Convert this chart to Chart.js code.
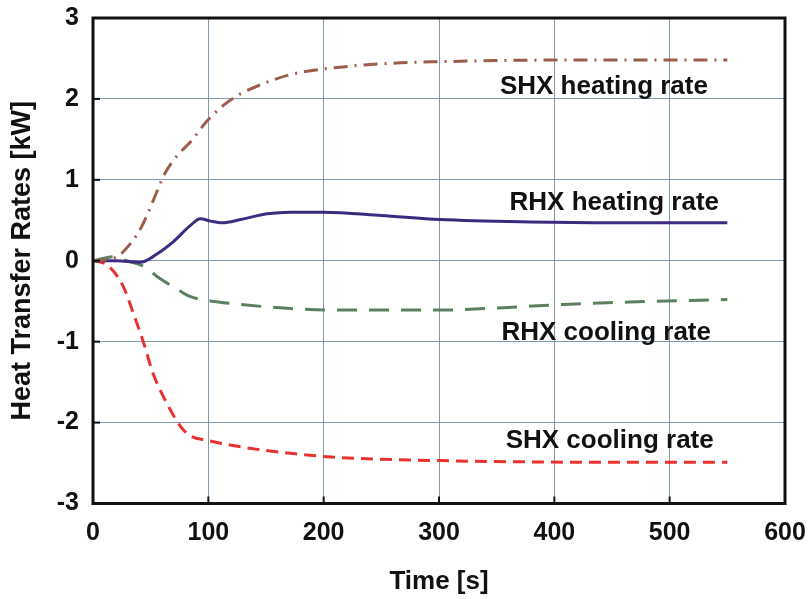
<!DOCTYPE html>
<html>
<head>
<meta charset="utf-8">
<script src="https://cdn.jsdelivr.net/npm/chart.js@4"></script>
<style>
html,body{margin:0;padding:0;background:#fff;}
#wrap{width:809px;height:599px;}
</style>
</head>
<body>
<div id="wrap"><canvas id="heatChart" width="809" height="599"></canvas></div>
<script>
// time [s] and rates [kW]
const shxHeatT = [0, 10, 22, 34, 41, 48, 55, 62, 73, 84, 99, 113, 125, 148, 171, 200, 258, 301, 400, 550];
const shxHeatV = [0, 0.01, 0.06, 0.24, 0.39, 0.6, 0.84, 1.07, 1.3, 1.46, 1.73, 1.92, 2.04, 2.19, 2.3, 2.37, 2.44, 2.46, 2.48, 2.48];

const rhxHeatT = [0, 20, 41, 55, 70, 84, 93, 102, 112, 128, 151, 171, 200, 250, 301, 379, 450, 550];
const rhxHeatV = [0, 0, -0.02, 0.08, 0.24, 0.43, 0.52, 0.49, 0.47, 0.51, 0.58, 0.6, 0.6, 0.56, 0.51, 0.48, 0.47, 0.47];

const rhxCoolT = [0, 18, 29, 44, 58, 73, 84, 99, 128, 171, 212, 301, 356, 408, 466, 550];
const rhxCoolV = [0, 0.05, 0, -0.07, -0.22, -0.35, -0.44, -0.49, -0.54, -0.59, -0.61, -0.61, -0.58, -0.54, -0.51, -0.48];

const shxCoolT = [0, 12, 26, 35, 44, 52, 64, 76, 84, 99, 128, 171, 212, 301, 446, 550];
const shxCoolV = [0, -0.05, -0.31, -0.65, -1.02, -1.39, -1.76, -2.05, -2.16, -2.22, -2.3, -2.38, -2.43, -2.47, -2.49, -2.49];

const xTicks = [0, 100, 200, 300, 400, 500, 600];
const yTicks = [-3, -2, -1, 0, 1, 2, 3];

// curve labels: [text, x, y] in data units
const curveLabels = [
  ['SHX heating rate', 443, 2.15],
  ['RHX heating rate', 452, 0.71],
  ['RHX cooling rate', 445, -0.89],
  ['SHX cooling rate', 448, -2.23]
];

function pts(t, v){
  return t.map((x, i) => ({x: x, y: v[i]}));
}

const FONT = 'Liberation Sans, Arial, sans-serif';
const GRID = '#7f9caf';

const labelsPlugin = {
  id: 'labelsPlugin',
  afterDatasetsDraw(chart){
    const c = chart.ctx, xs = chart.scales.x, ys = chart.scales.y;
    const a = chart.chartArea;
    c.save();
    // inward tick marks
    c.strokeStyle = '#111';
    c.lineWidth = 2;
    yTicks.forEach(v => {
      const y = ys.getPixelForValue(v);
      c.beginPath(); c.moveTo(a.left, y); c.lineTo(a.left + 7, y); c.stroke();
    });
    xTicks.forEach(v => {
      const x = xs.getPixelForValue(v);
      c.beginPath(); c.moveTo(x, a.bottom); c.lineTo(x, a.bottom - 7); c.stroke();
    });
    // frame
    c.lineWidth = 3;
    c.strokeRect(a.left, a.top, a.right - a.left, a.bottom - a.top);
    c.fillStyle = '#111';
    c.font = 'bold 26px ' + FONT;
    c.textAlign = 'center';
    c.textBaseline = 'middle';
    curveLabels.forEach(l => {
      c.fillText(l[0], xs.getPixelForValue(l[1]), ys.getPixelForValue(l[2]));
    });
    c.restore();
  }
};

new Chart(document.getElementById('heatChart'), {
  type: 'line',
  data: {
    datasets: [
      {label: 'SHX heating rate', data: pts(shxHeatT, shxHeatV), borderColor: '#9c5e4c', borderWidth: 3, borderDash: [14, 7, 2, 7], cubicInterpolationMode: 'monotone', pointRadius: 0},
      {label: 'RHX heating rate', data: pts(rhxHeatT, rhxHeatV), borderColor: '#3d2b82', borderWidth: 3, cubicInterpolationMode: 'monotone', pointRadius: 0},
      {label: 'RHX cooling rate', data: pts(rhxCoolT, rhxCoolV), borderColor: '#5b7f5f', borderWidth: 3, borderDash: [20, 12], cubicInterpolationMode: 'monotone', pointRadius: 0},
      {label: 'SHX cooling rate', data: pts(shxCoolT, shxCoolV), borderColor: '#e83230', borderWidth: 3, borderDash: [12, 7], cubicInterpolationMode: 'monotone', pointRadius: 0}
    ]
  },
  options: {
    responsive: false,
    animation: false,
    layout: {padding: {top: 18, right: 24, bottom: 0, left: 0}},
    plugins: {legend: {display: false}, tooltip: {enabled: false}},
    scales: {
      x: {
        type: 'linear', min: 0, max: 600,
        afterBuildTicks: s => { s.ticks = xTicks.map(v => ({value: v})); },
        afterFit: s => { s.height = 95.5; s.paddingLeft = 0; s.paddingRight = 0; },
        grid: {color: GRID, lineWidth: 1, drawTicks: false},
        border: {display: false},
        ticks: {color: '#111', font: {family: FONT, size: 25, weight: 'bold'}, padding: 15, maxRotation: 0},
        title: {display: true, text: 'Time [s]', color: '#111', font: {family: FONT, size: 26, weight: 'bold'}, padding: {top: 8, bottom: 2}}
      },
      y: {
        type: 'linear', min: -3, max: 3,
        afterBuildTicks: s => { s.ticks = yTicks.map(v => ({value: v})); },
        afterFit: s => { s.width = 93; s.paddingTop = 0; s.paddingBottom = 0; },
        grid: {color: GRID, lineWidth: 1, drawTicks: false},
        border: {display: false},
        ticks: {color: '#111', font: {family: FONT, size: 25, weight: 'bold'}, padding: 14},
        title: {display: true, text: 'Heat Transfer Rates [kW]', color: '#111', font: {family: FONT, size: 27, weight: 'bold'}, padding: {top: 6, bottom: 0}}
      }
    }
  },
  plugins: [labelsPlugin]
});
</script>
</body>
</html>
